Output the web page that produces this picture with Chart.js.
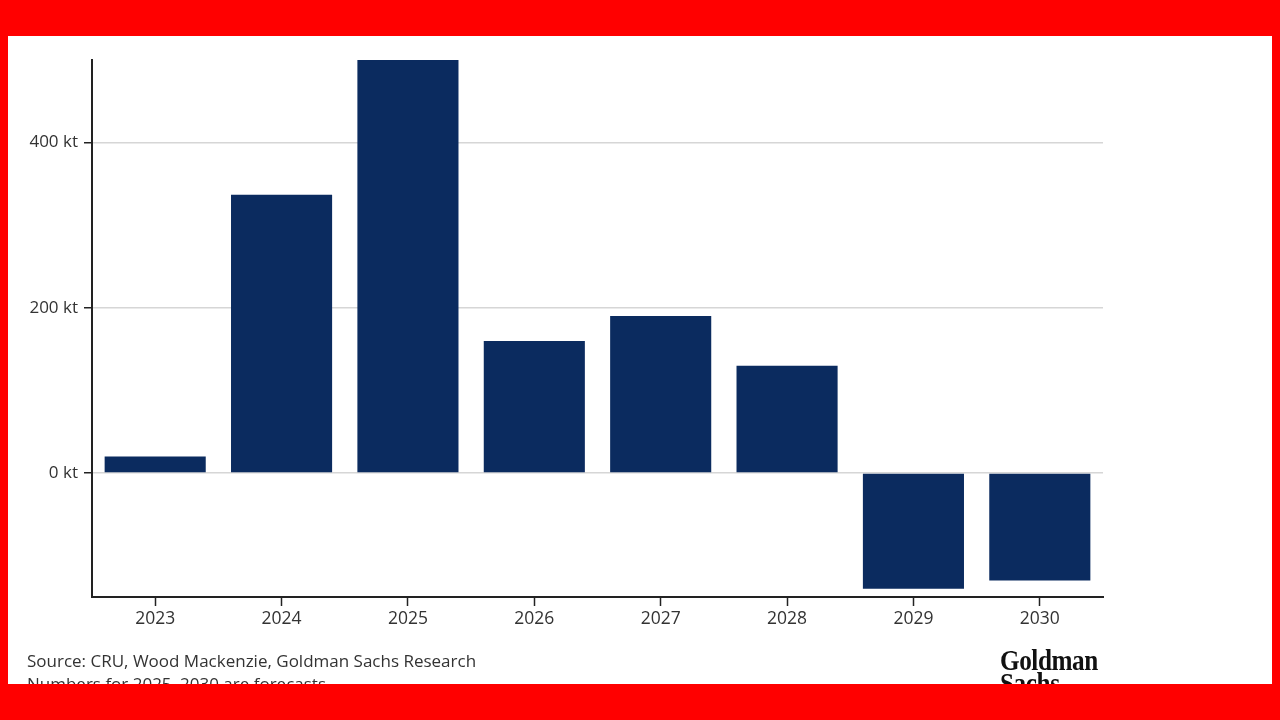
<!DOCTYPE html>
<html>
<head>
<meta charset="utf-8">
<script src="https://cdn.jsdelivr.net/npm/chart.js@4"></script>
<style>
  html, body { margin: 0; padding: 0; }
  body { width: 1280px; height: 720px; position: relative; overflow: hidden; background: #fff; font-family: "Open Sans", sans-serif; }
  #grafico { position: absolute; left: 0; top: 0; }
  .nota { position: absolute; left: 27px; font-size: 17px; color: #333; white-space: nowrap; }
  .logo { position: absolute; left: 1000px; font-family: "Liberation Serif", serif; font-weight: bold; font-size: 30px; line-height: 23px; color: #111; transform: scaleX(0.84); transform-origin: left top; letter-spacing: -0.5px; }
  .moldura { position: absolute; background: #ff0000; }
</style>
</head>
<body>
<canvas id="grafico" width="1280" height="720"></canvas>
<div class="nota" style="top:649px">Source: CRU, Wood Mackenzie, Goldman Sachs Research</div>
<div class="nota" style="top:672px">Numbers for 2025–2030 are forecasts</div>
<div class="logo" style="top:648px">Goldman<br>Sachs</div>
<div class="moldura" style="left:0;top:0;width:1280px;height:36px"></div>
<div class="moldura" style="left:0;top:684px;width:1280px;height:36px"></div>
<div class="moldura" style="left:0;top:0;width:8px;height:720px"></div>
<div class="moldura" style="left:1272px;top:0;width:8px;height:720px"></div>
<script>
const anos = ['2023', '2024', '2025', '2026', '2027', '2028', '2029', '2030'];
const valores = [20, 337, 500, 160, 190, 130, -140, -130];
const ticksY = [0, 200, 400];
const eixoMin = -150;
const eixoMax = 500;

const ctx = document.getElementById('grafico');
new Chart(ctx, {
    type: 'bar',
    data: {
        labels: anos,
        datasets: [{
            label: 'kt',
            data: valores,
            backgroundColor: '#0b2b5f',
            borderWidth: 0,
            barPercentage: 0.8,
            categoryPercentage: 1.0
        }]
    },
    options: {
        responsive: false,
        animation: false,
        layout: {
            padding: { left: 0, top: 60, right: 177, bottom: 83 }
        },
        plugins: {
            legend: { display: false },
            tooltip: { enabled: false }
        },
        scales: {
            x: {
                grid: {
                    offset: false,
                    drawOnChartArea: false,
                    tickLength: 9,
                    tickColor: '#222',
                    tickWidth: 1.5
                },
                border: { color: '#222', width: 2 },
                ticks: {
                    color: '#333',
                    font: { family: 'Open Sans', size: 17.5 },
                    padding: 3
                },
                afterFit: function (scale) { scale.height = 40; }
            },
            y: {
                min: eixoMin,
                max: eixoMax,
                afterBuildTicks: function (scale) {
                    scale.ticks = ticksY.map(v => ({ value: v }));
                },
                grid: {
                    color: '#d6d6d6',
                    lineWidth: 1.5,
                    tickLength: 8,
                    tickColor: '#222'
                },
                border: { color: '#222', width: 2 },
                ticks: {
                    color: '#333',
                    font: { family: 'Open Sans', size: 17 },
                    padding: 6,
                    callback: function (v) { return v + ' kt'; }
                },
                afterFit: function (scale) { scale.width = 92; }
            }
        }
    }
});
</script>
</body>
</html>
